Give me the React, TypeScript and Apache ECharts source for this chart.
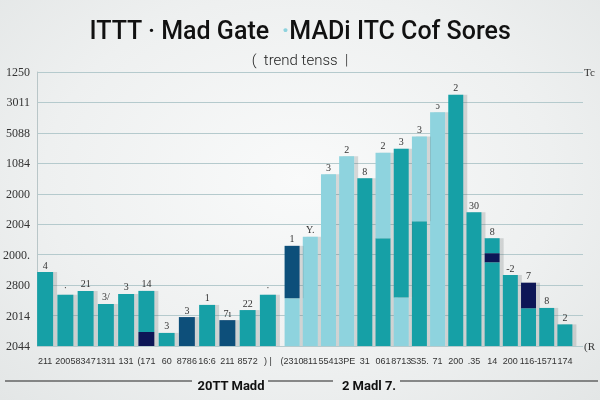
import React, { useEffect, useRef } from "react";
import * as echarts from "echarts";

// ---- data ----
const Y_TICKS = ["2044", "2014", "2800", "2000.", "2004", "2000", "1084", "5088", "3011", "1250"];

const LEFT_CATS = ["211", "2005", "8347", "1311", "131", "(171", "60", "8786", "16:6", "211", "8572", ") |"];
const LEFT_SEG1 = [2.43, 1.68, 1.81, 1.38, 1.71, 0.46, 0.43, 0.95, 1.35, 0.85, 1.18, 1.68];
const LEFT_SEG1_KIND = ["teal", "teal", "teal", "teal", "teal", "navy", "teal", "dark", "teal", "dark", "teal", "teal"];
const LEFT_SEG2 = [0, 0, 0, 0, 0, 1.35, 0, 0, 0, 0, 0, 0];
const LEFT_SEG2_KIND = ["teal", "teal", "teal", "teal", "teal", "teal", "teal", "teal", "teal", "teal", "teal", "teal"];
const LEFT_SEG3 = [0, 0, 0, 0, 0, 0, 0, 0, 0, 0, 0, 0];
const LEFT_SEG3_KIND = ["teal", "teal", "teal", "teal", "teal", "teal", "teal", "teal", "teal", "teal", "teal", "teal"];
const LEFT_LABELS = ["4", "·", "21", "3/", "3", "14", "3", "3", "1", "7ı", "22", "·"];

const RIGHT_CATS = ["(2310", "811", "5541", "3PE", "31", "061", "8713", "S35.", "71", "200", ".35", "14", "200", "116-", "1571", "174"];
const RIGHT_SEG1 = [1.57, 3.59, 5.64, 6.23, 5.51, 3.54, 1.59, 4.1, 7.68, 8.25, 4.39, 2.75, 2.33, 1.24, 1.25, 0.71];
const RIGHT_SEG1_KIND = ["light", "light", "light", "light", "teal", "teal", "light", "teal", "light", "teal", "teal", "teal", "teal", "teal", "teal", "teal"];
const RIGHT_SEG2 = [1.72, 0, 0, 0, 0, 2.81, 4.89, 2.78, 0, 0, 0, 0.3, 0, 0.84, 0, 0];
const RIGHT_SEG2_KIND = ["dark", "teal", "teal", "teal", "teal", "light", "teal", "light", "teal", "teal", "teal", "navy", "teal", "navy", "teal", "teal"];
const RIGHT_SEG3 = [0, 0, 0, 0, 0, 0, 0, 0, 0, 0, 0, 0.49, 0, 0, 0, 0];
const RIGHT_SEG3_KIND = ["teal", "teal", "teal", "teal", "teal", "teal", "teal", "teal", "teal", "teal", "teal", "teal", "teal", "teal", "teal", "teal"];
const RIGHT_LABELS = ["1", "Y.", "3", "2", "8", "2", "3", "3", "ɔ", "2", "30", "8", "-2", "7", "8", "2"];

const PALETTE: Record<string, string> = {
  teal: "#16a0a6",
  light: "#8ed3de",
  dark: "#0e4f7a",
  navy: "#0b1656",
};

function buildSeries(
  segs: number[][],
  kinds: string[][],
  labels: string[],
  axisIndex: number,
  stack: string,
  barWidth: number
) {
  const n = labels.length;
  const topIdx: number[] = [];
  for (let i = 0; i < n; i++) {
    let t = 0;
    segs.forEach((s, k) => {
      if (s[i] > 0) t = k;
    });
    topIdx.push(t);
  }
  return segs.map((s, k) => ({
    type: "bar",
    xAxisIndex: axisIndex,
    yAxisIndex: axisIndex,
    stack,
    barWidth,
    data: s.map((v, i) => ({
      value: v,
      itemStyle: {
        color: PALETTE[kinds[k][i]],
        shadowColor: "rgba(90,100,100,0.22)",
        shadowOffsetX: 4,
        shadowOffsetY: 0,
        shadowBlur: 0,
      },
      label: {
        show: topIdx[i] === k && v > 0,
        position: "top",
        distance: 2,
        formatter: labels[i],
        fontSize: 10,
        fontFamily: "Liberation Serif",
        color: "#333",
      },
    })),
  }));
}

export default function App() {
  const ref = useRef<HTMLDivElement>(null);

  useEffect(() => {
    if (!ref.current) return;
    const chart = echarts.init(ref.current, null, { renderer: "svg" });
    const gridTop = 72;
    const gridBottom = 54;

    const catAxis = (data: string[], gi: number) => ({
      type: "category",
      gridIndex: gi,
      data,
      axisLine: { show: false },
      axisTick: { show: false },
      axisLabel: {
        interval: 0,
        fontSize: 9,
        fontFamily: "Liberation Sans",
        color: "#333",
        margin: 10,
        hideOverlap: false,
      },
    });
    const hiddenY = (gi: number) => ({
      type: "value",
      gridIndex: gi,
      min: 0,
      max: 9,
      show: false,
    });

    chart.setOption({
      animation: false,
      backgroundColor: "transparent",
      title: [
        {
          text: "{a|ITTT · Mad Gate  }{b|·}{a|MADi ITC Cof Sores}",
          left: "center",
          top: 13,
          textStyle: {
            rich: {
              a: { fontSize: 25, fontWeight: 500, fontFamily: "Roboto", color: "#111" },
              b: { fontSize: 25, fontWeight: 700, fontFamily: "Roboto", color: "#8ed3de" },
            },
          },
        },
        {
          text: "(  trend tenss  |",
          left: "center",
          top: 47,
          textStyle: { fontSize: 15, fontWeight: 300, fontFamily: "Roboto", color: "#222" },
        },
      ],
      grid: [
        { left: 37, right: 17, top: gridTop, bottom: gridBottom },
        { left: 35, width: 243, top: gridTop, bottom: gridBottom },
        { left: 283, width: 291, top: gridTop, bottom: gridBottom },
      ],
      xAxis: [
        { type: "value", gridIndex: 0, min: 0, max: 1, show: false },
        catAxis(LEFT_CATS, 1),
        catAxis(RIGHT_CATS, 2),
      ],
      yAxis: [
        {
          type: "value",
          gridIndex: 0,
          min: 0,
          max: 9,
          interval: 1,
          axisLine: { show: true, lineStyle: { color: "#b9c6c8", width: 1 } },
          axisTick: { show: false },
          splitLine: { show: true, lineStyle: { color: "#b5cacd", width: 1 } },
          axisLabel: {
            formatter: (v: number) => Y_TICKS[Math.round(v)] ?? "",
            fontSize: 12,
            fontFamily: "Liberation Serif",
            color: "#333",
            margin: 7,
          },
        },
        hiddenY(1),
        hiddenY(2),
      ],
      series: [
        ...buildSeries(
          [LEFT_SEG1, LEFT_SEG2, LEFT_SEG3],
          [LEFT_SEG1_KIND, LEFT_SEG2_KIND, LEFT_SEG3_KIND],
          LEFT_LABELS,
          1,
          "left",
          16
        ),
        ...buildSeries(
          [RIGHT_SEG1, RIGHT_SEG2, RIGHT_SEG3],
          [RIGHT_SEG1_KIND, RIGHT_SEG2_KIND, RIGHT_SEG3_KIND],
          RIGHT_LABELS,
          2,
          "right",
          15
        ),
      ],
      graphic: [
        { type: "text", left: 584, top: 66, style: { text: "Tc", fontSize: 11, fontFamily: "Liberation Serif", fill: "#333" } },
        { type: "text", left: 584, top: 340, style: { text: "(R", fontSize: 11, fontFamily: "Liberation Serif", fill: "#333" } },
        { type: "line", shape: { x1: 5, y1: 381, x2: 192, y2: 381 }, style: { stroke: "#222", lineWidth: 1.2 } },
        { type: "line", shape: { x1: 268, y1: 381, x2: 333, y2: 381 }, style: { stroke: "#222", lineWidth: 1.2 } },
        { type: "line", shape: { x1: 400, y1: 381, x2: 598, y2: 381 }, style: { stroke: "#222", lineWidth: 1.2 } },
        {
          type: "text",
          x: 231,
          y: 385,
          style: { text: "20TT Madd", fontSize: 13, fontWeight: 700, fontFamily: "Roboto", fill: "#111", align: "center", verticalAlign: "middle" },
        },
        {
          type: "text",
          x: 369,
          y: 385,
          style: { text: "2 Madl 7.", fontSize: 13, fontWeight: 700, fontFamily: "Roboto", fill: "#111", align: "center", verticalAlign: "middle" },
        },
      ],
    });
    return () => chart.dispose();
  }, []);

  return (
    <div
      ref={ref}
      style={{
        position: "fixed",
        left: 0,
        top: 0,
        width: 600,
        height: 400,
        background: "radial-gradient(ellipse at 50% 45%, #f9fafa 0%, #eef0f0 60%, #e3e6e6 100%)",
      }}
    />
  );
}
